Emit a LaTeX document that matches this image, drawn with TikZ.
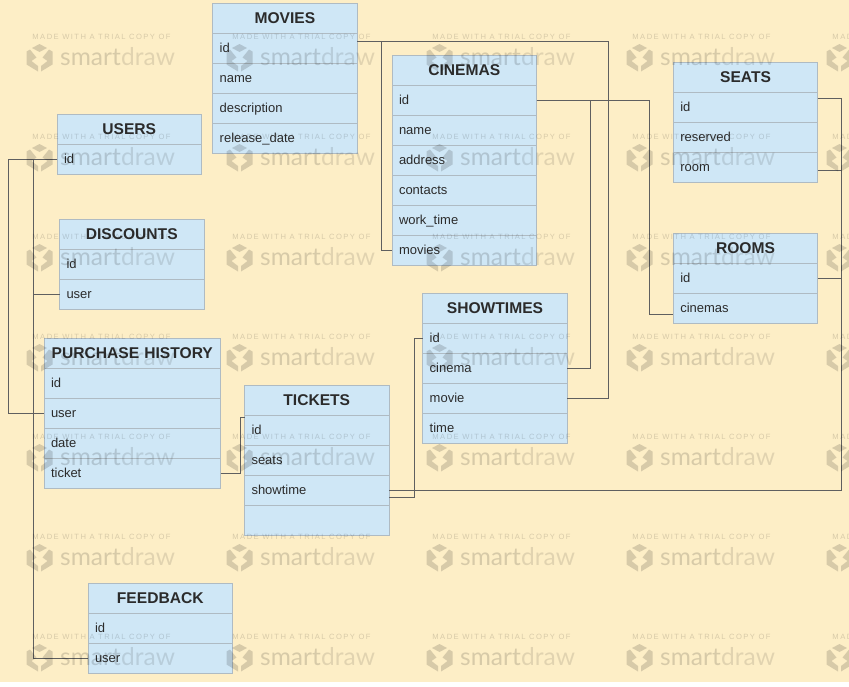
\documentclass[tikz,border=0pt]{standalone}
\usepackage{fontspec}
\setmainfont{Liberation Sans}
\newfontfamily\wmsmall[LetterSpace=19]{Liberation Sans}
\newfontfamily\wmbig{Lato}
\usepackage{tikz}
\usetikzlibrary{positioning}

\definecolor{paper}{HTML}{FDEEC6}
\definecolor{cellblue}{HTML}{CFE7F6}
\definecolor{cellline}{HTML}{AFBBC3}
\definecolor{linkgray}{HTML}{5F5F5F}
\definecolor{inkdark}{HTML}{2B2B2B}

\tikzset{
 cell/.style={draw=cellline, fill=cellblue, line width=0.9pt, anchor=north west, outer sep=0pt,
  minimum height=30pt, inner ysep=0pt, inner xsep=7pt, text=inkdark, text height=10pt, text depth=2pt,
  font=\fontsize{13}{15}\selectfont, align=left},
 headcell/.style={cell, align=center, inner xsep=0pt, text height=11.5pt, text depth=1pt,
  font=\fontsize{15.6}{18}\selectfont\bfseries},
 link/.style={draw=linkgray, line width=1pt},
 wmsmalltext/.style={black, opacity=0.15, inner sep=0pt, anchor=center, font=\fontsize{7.6}{9}\wmsmall},
 wmbigtext/.style={black, opacity=0.15, inner sep=0pt, anchor=west, font=\fontsize{24.5}{28}\wmbig},
 wmlogo/.style={fill=black, opacity=0.15, draw=none}
}

% name, title, x, y, width, rows
\newcommand{\tablebox}[6]{
 \node[headcell, text width=#5pt] (#1-0) at (#3,#4) {#2};
 \foreach \row [count=\i] in {#6} {
  \node[cell, text width=#5pt-14pt] (#1-\i) at (#3,#4+30*\i) {\row};
 }
}

\begin{document}
\begin{tikzpicture}[x=1pt, y=-1pt]
\useasboundingbox (0,0) rectangle (849,686);
\fill[white] (0,0) rectangle (849,686);
\fill[paper] (0,0) rectangle (849,682);

\tablebox{movies}{MOVIES}{212.7}{3.5}{144.5}{id,name,description,release\_date}
\tablebox{users}{USERS}{57}{114.3}{144.5}{id}
\tablebox{discounts}{DISCOUNTS}{59.5}{219.7}{144.5}{id,user}
\tablebox{purchase}{PURCHASE HISTORY}{44}{338.7}{176.5}{id,user,date,ticket}
\tablebox{tickets}{TICKETS}{244.5}{385.7}{144.5}{id,seats,showtime,{}}
\tablebox{feedback}{FEEDBACK}{88}{583.7}{144.5}{id,user}
\tablebox{cinemas}{CINEMAS}{392}{55.7}{144.5}{id,name,address,contacts,work\_time,movies}
\tablebox{showtimes}{SHOWTIMES}{422.7}{293.3}{144.5}{id,cinema,movie,time}
\tablebox{seats}{SEATS}{673.3}{62.7}{144.5}{id,reserved,room}
\tablebox{rooms}{ROOMS}{673.3}{233.7}{144.5}{id,cinemas}

\draw[link] (users-1.west) -- ++(-49,0) |- (purchase-2.west);
\draw[link] (users-1.west) -- ++(-24,0) |- (discounts-2.west);
\draw[link] (users-1.west) -- ++(-24,0) |- (feedback-2.west);

\draw[link] ([yshift=7.5pt]movies-1.east) -- ++(24,0) |- (cinemas-6.west);
\draw[link] ([yshift=7.5pt]movies-1.east) -- ++(251.5,0) |- (showtimes-3.east);

\draw[link] (cinemas-1.east) -- ++(112.8,0) |- ([yshift=-5.6pt]rooms-2.west);
\draw[link] (cinemas-1.east) -- ++(54.2,0) |- (showtimes-2.east);

\draw[link] ([yshift=9.4pt]seats-1.east) -- ++(24,0) |- (tickets-3.east);
\draw[link] ([yshift=-2.3pt]seats-3.east) -- ++(24,0);
\draw[link] (rooms-1.east) -- ++(24,0);

\draw[link] ([yshift=-6.3pt]tickets-3.east) -- ++(25,0) |- (showtimes-1.west);
\draw[link] (purchase-4.east) -- ++(20,0) |- ([yshift=13pt]tickets-1.west);

% watermark, on top of everything
\foreach \wx in {0,200,400,600,800} {
 \foreach \wy in {0,100,200,300,400,500,600} {
  \node[wmsmalltext] (wmtop-\wx-\wy) at (\wx+101.5,\wy+36.5) {MADE WITH A TRIAL COPY OF};
  \node[wmbigtext] (wmsmart-\wx-\wy) at (\wx+60,\wy+57) {smart};
  \node[wmbigtext, opacity=0.11, right=0pt of wmsmart-\wx-\wy] (wmdraw-\wx-\wy) {draw};
  \begin{scope}[shift={(\wx+39.5,\wy+58)}]
   \fill[wmlogo] (0,-14)--(7.5,-10)--(0,-6)--(-7.5,-10)--cycle;
   \fill[wmlogo] (9.5,-8.5)--(13,-6.5)--(13,6.5)--(1.5,13.5)--(1.5,8)--(8,3)--(3,-0.5)--cycle;
   \fill[wmlogo] (-9.5,-8.5)--(-13,-6.5)--(-13,6.5)--(-1.5,13.5)--(-1.5,8)--(-8,3)--(-3,-0.5)--cycle;
  \end{scope}
 }
}
\end{tikzpicture}
\end{document}
